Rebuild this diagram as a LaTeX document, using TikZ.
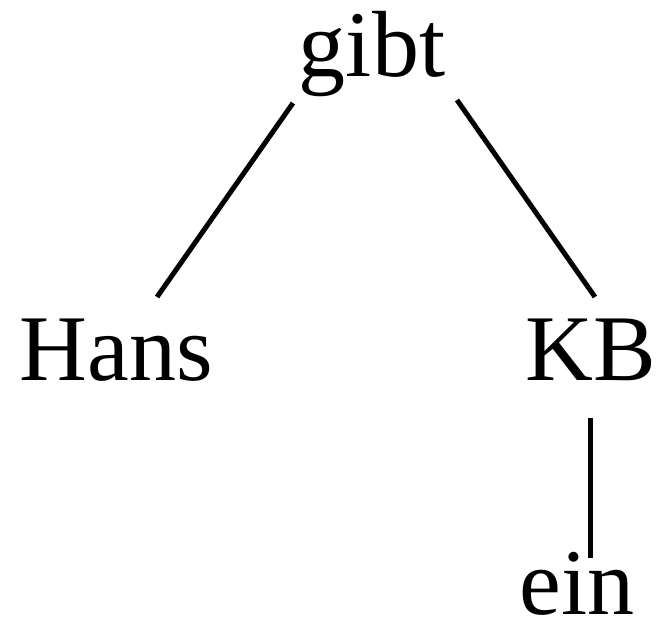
\documentclass[tikz,border=0pt]{standalone}
\usepackage{fontspec}
\setmainfont{Liberation Serif}
\begin{document}
\begin{tikzpicture}[x=1pt,y=-1pt,
  lbl/.style={anchor=base,inner sep=0pt,font=\fontsize{94}{100}\selectfont},
  edge/.style={line width=5pt}]
\useasboundingbox (0,0) rectangle (660,627);
\node[lbl] (gibt) at (372,76) {gibt};
\node[lbl] (Hans) at (116,380) {Hans};
\node[lbl] (KB) at (591,380) {KB};
\node[lbl,text depth=0pt] (ein) at (577,614) {ein};
\coordinate (g1) at (293,103);
\coordinate (h1) at (157,297);
\coordinate (g2) at (457,100);
\coordinate (k1) at (595,297);
\coordinate (k2) at (590,418);
\coordinate (e1) at (590,558);
\draw[edge] (g1) -- (h1);
\draw[edge] (g2) -- (k1);
\draw[edge] (k2) -- (e1);
\end{tikzpicture}
\end{document}
